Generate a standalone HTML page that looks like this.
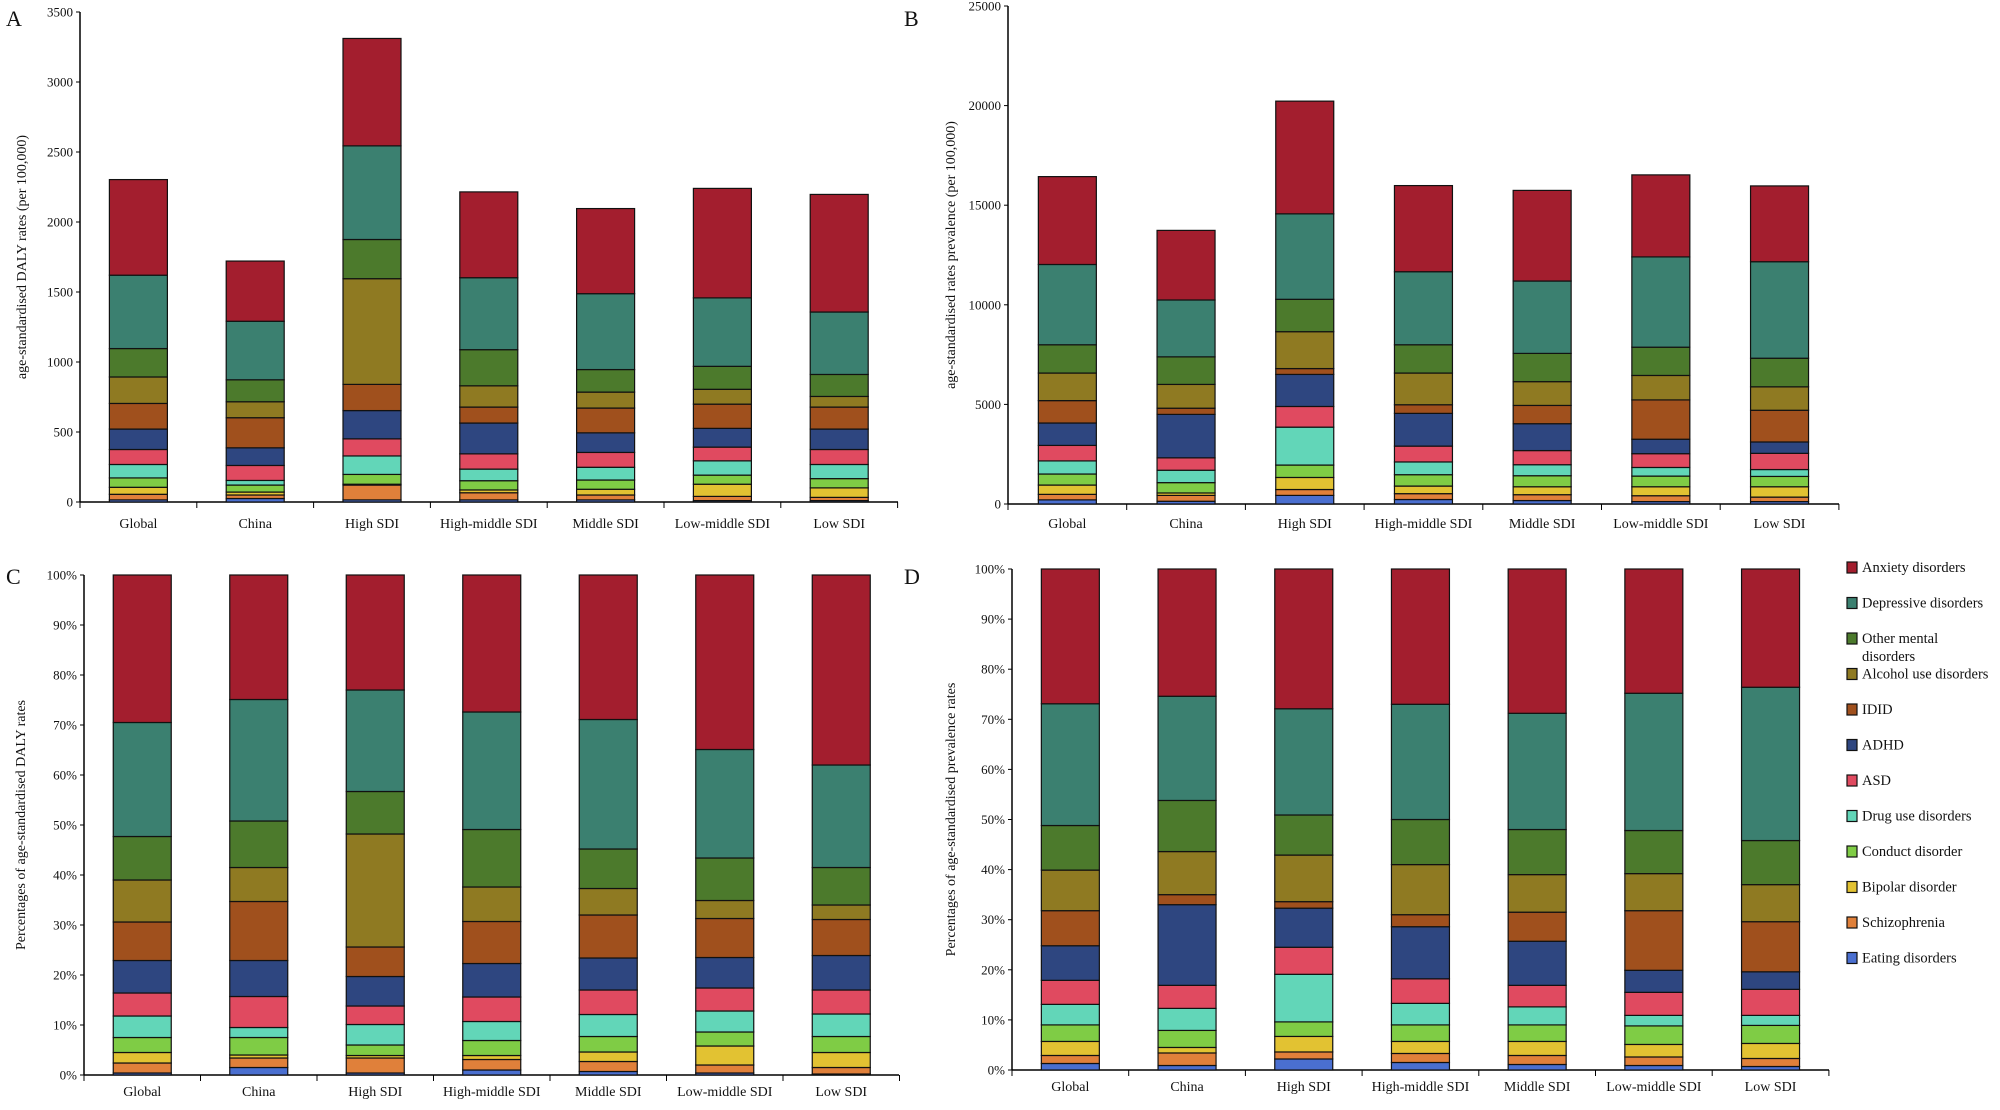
<!DOCTYPE html>
<html><head><meta charset="utf-8"><style>
html,body{margin:0;padding:0;background:#fff;width:2000px;height:1110px;overflow:hidden}
svg text{font-family:"Liberation Serif",serif;fill:#111}
</style></head><body>
<svg id="s" width="2000" height="1110" xmlns="http://www.w3.org/2000/svg"></svg>
<script>
const C=["#4a6fd0","#e0803a","#e2c232","#7fcc45","#62d6b8","#e04a60","#2e4680","#a0501d","#8f7a22","#4c7a2c","#3b8070","#a31e2e"];
const cats=["Global","China","High SDI","High-middle SDI","Middle SDI","Low-middle SDI","Low SDI"];
const A=[[15,55,105,172,268,375,521,704,893,1096,1620,2303],[25,50,71,121,154,261,387,602,716,873,1291,1721],[15,121,127,197,329,451,653,840,1595,1875,2544,3311],[15,66,86,152,235,344,564,678,830,1088,1602,2215],[15,50,91,157,248,354,494,671,785,946,1488,2096],[10,40,127,192,294,392,526,699,805,969,1458,2240],[10,33,101,167,268,375,521,678,754,911,1357,2197]];
const B=[[208,484,951,1505,2163,2941,4066,5190,6574,7993,12024,16435],[138,432,554,1073,1695,2318,4498,4809,6003,7387,10242,13736],[432,727,1332,1955,3858,4896,6505,6799,8650,10276,14567,20224],[225,519,900,1471,2111,2906,4550,4982,6574,7993,11660,15985],[173,467,865,1419,1972,2682,4031,4948,6142,7560,11193,15743],[121,415,865,1401,1834,2526,3252,5225,6453,7872,12404,16522],[121,346,865,1384,1730,2543,3114,4706,5882,7318,12162,15968]];
const Cc=[[0.4,2.4,4.5,7.5,11.8,16.4,22.9,30.6,39.0,47.7,70.5,100],[1.5,3.4,4.0,7.5,9.5,15.7,22.9,34.7,41.5,50.8,75.1,100],[0.4,3.4,3.9,6.0,10.1,13.8,19.7,25.6,48.2,56.7,77.0,100],[1.0,3.1,3.9,6.9,10.7,15.6,22.3,30.7,37.6,49.1,72.6,100],[0.7,2.7,4.6,7.7,12.1,17.0,23.4,32.0,37.3,45.2,71.1,100],[0.4,2.0,5.8,8.6,12.8,17.4,23.5,31.3,34.9,43.4,65.1,100],[0.2,1.5,4.5,7.7,12.2,17.0,23.9,31.1,34.0,41.5,62.0,100]];
const D=[[1.3,2.9,5.7,9.0,13.1,17.9,24.8,31.8,39.9,48.8,73.1,100],[0.9,3.4,4.5,7.9,12.3,16.9,33.0,35.0,43.6,53.8,74.6,100],[2.2,3.6,6.7,9.6,19.1,24.5,32.3,33.6,42.9,50.9,72.1,100],[1.5,3.3,5.7,9.0,13.3,18.2,28.6,31.0,41.0,50.0,73.0,100],[1.1,2.9,5.7,9.0,12.6,16.9,25.7,31.5,39.0,48.0,71.2,100],[0.9,2.6,5.1,8.8,10.9,15.5,19.9,31.8,39.2,47.8,75.2,100],[0.7,2.3,5.3,8.9,10.9,16.1,19.6,29.6,37.0,45.8,76.4,100]];
let h="";
function panel(o){
 const {ax,x1,yTop,y0,max,step,data,fmt,sp,letter,lx,ly,ylab,ylx,labY}=o;
 const k=(y0-yTop)/max;
 h+=`<text x="${lx}" y="${ly}" font-size="22">${letter}</text>`;
 h+=`<line x1="${ax}" y1="${yTop}" x2="${ax}" y2="${y0}" stroke="#000" stroke-width="1.5"/>`;
 h+=`<line x1="${ax}" y1="${y0}" x2="${x1}" y2="${y0}" stroke="#000" stroke-width="1.5"/>`;
 for(let v=0;v<=max+1e-9;v+=step){const y=y0-v*k;h+=`<line x1="${ax-4}" y1="${y}" x2="${ax}" y2="${y}" stroke="#000"/><text x="${ax-7}" y="${y+4.5}" font-size="13" text-anchor="end">${fmt(v)}</text>`;}
 for(let i=0;i<=7;i++){const x=ax+i*sp;h+=`<line x1="${x}" y1="${y0}" x2="${x}" y2="${y0+6}" stroke="#000"/>`;}
 data.forEach((d,i)=>{const cx=ax+sp*(i+0.5);let prev=0;
  d.forEach((v,j)=>{const ya=y0-v*k,yb=y0-prev*k;h+=`<rect x="${cx-29}" y="${ya}" width="58" height="${yb-ya}" fill="${C[j]}" stroke="#111" stroke-width="1.2"/>`;prev=v;});
  h+=`<text x="${cx}" y="${labY}" font-size="14" text-anchor="middle">${cats[i]}</text>`;});
 const my=(yTop+y0)/2;
 h+=`<text transform="translate(${ylx},${my}) rotate(-90)" font-size="14" text-anchor="middle">${ylab}</text>`;
}
panel({ax:80,x1:898,yTop:12,y0:502,max:3500,step:500,data:A,fmt:v=>v,sp:116.8,letter:"A",lx:6,ly:26,ylab:"age-standardised DALY rates (per 100,000)",ylx:26,labY:528});
panel({ax:1008,x1:1839,yTop:6,y0:504,max:25000,step:5000,data:B,fmt:v=>v,sp:118.7,letter:"B",lx:904,ly:26,ylab:"age-standardised rates prevalence (per 100,000)",ylx:955,labY:528});
panel({ax:84,x1:899,yTop:575,y0:1075,max:100,step:10,data:Cc,fmt:v=>Math.round(v)+"%",sp:116.5,letter:"C",lx:6,ly:584,ylab:"Percentages of age-standardised DALY rates",ylx:25,labY:1096});
panel({ax:1012,x1:1829,yTop:569,y0:1070,max:100,step:10,data:D,fmt:v=>Math.round(v)+"%",sp:116.7,letter:"D",lx:904,ly:584,ylab:"Percentages of age-standardised prevalence rates",ylx:955,labY:1091});
const L=["Anxiety disorders","Depressive disorders","Other mental|disorders","Alcohol use disorders","IDID","ADHD","ASD","Drug use disorders","Conduct disorder","Bipolar disorder","Schizophrenia","Eating disorders"];
L.forEach((t,i)=>{const y=567+i*35.5;const c=C[11-i];
 h+=`<rect x="1847" y="${y-5}" width="10" height="11" fill="${c}" stroke="#111" stroke-width="1.2"/>`;
 const p=t.split("|");h+=`<text x="1862" y="${y+5}" font-size="14.5">${p[0]}</text>`;if(p[1])h+=`<text x="1862" y="${y+23}" font-size="14.5">${p[1]}</text>`;});
document.getElementById("s").innerHTML=h;
</script>
</body></html>
